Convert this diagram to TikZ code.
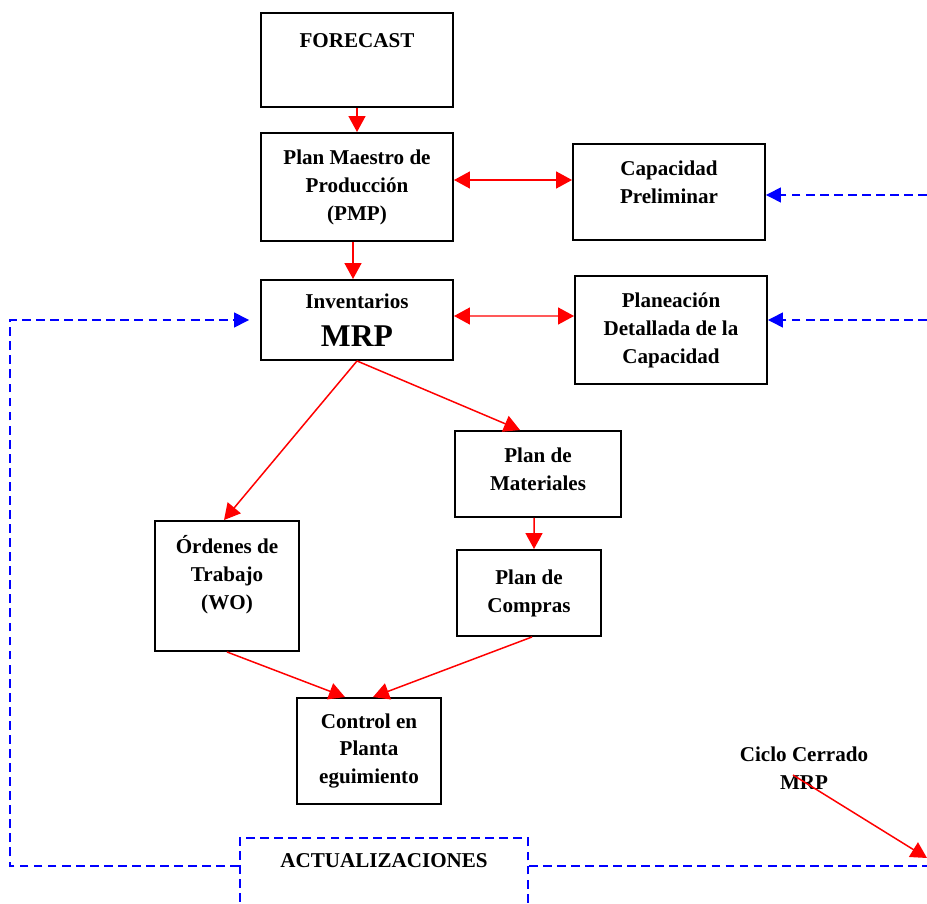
\documentclass[tikz,border=0pt]{standalone}
\usepackage{fontspec}
\setmainfont{Liberation Serif}
\usepackage{tikz}
\usetikzlibrary{arrows.meta,positioning}
\definecolor{c1}{RGB}{255,0,0}
\definecolor{c2}{RGB}{0,0,255}
\tikzset{
    box/.style={rectangle, draw, line width=1.1pt, minimum width=3.84cm, font=\fontsize{12}{15.9}\selectfont\bfseries, align=center},
    small/.style={box, minimum width=2.88cm},
    link/.style={-{Triangle[length=3.2mm,width=3.4mm]}, c1, line width=0.85pt},
    both/.style={{Triangle[length=3.2mm,width=3.4mm]}-{Triangle[length=3.2mm,width=3.4mm]}, c1, line width=0.85pt},
    upd/.style={c2, line width=0.85pt, dash pattern=on 5pt off 3pt},
    updarrow/.style={upd, -{Triangle[length=3mm,width=3mm]}}
}
\begin{document}
\begin{tikzpicture}
    \clip (0,0) rectangle (18.54,18.06);
    \node[box, minimum height=1.84cm, text height=0.58cm, text depth=1.06cm] (fc) at (7.14,16.86) {FORECAST};
    \node[box, minimum height=2.16cm] (pmp) at (7.14,14.32) {Plan Maestro de\\Producción\\(PMP)};
    \node[box, minimum height=1.92cm] (cap) at (13.38,14.22) {Capacidad\\Preliminar\\[-4.5pt]\mbox{}};
    \node[box, minimum height=1.6cm] (mrp) at (7.14,11.66) {Inventarios\\[6pt]{\fontsize{18}{20}\selectfont MRP}};
    \node[box, minimum height=2.16cm] (pdc) at (13.42,11.46) {Planeación\\Detallada de la\\Capacidad};
    \node[box, minimum width=3.32cm, minimum height=1.72cm] (pmat) at (10.76,8.58) {Plan de\\Materiales\\[-10pt]\mbox{}};
    \node[small, minimum height=2.6cm] (wo) at (4.54,6.34) {Órdenes de\\Trabajo\\(WO)\\\mbox{}};
    \node[small, minimum height=1.72cm] (pcom) at (10.58,6.20) {Plan de\\Compras};
    \node[small, minimum height=2.12cm] (ctl) at (7.38,3.04) {Control en\\Planta\\eguimiento};
    \node[box, upd, text=black, minimum width=5.76cm, minimum height=1.68cm, text height=0.46cm, text depth=1.02cm] (act) at (7.68,0.44) {ACTUALIZACIONES};
    \node[font=\fontsize{12}{15.9}\selectfont\bfseries, align=center] (cc) at (16.08,2.70) {Ciclo Cerrado\\MRP};

    \coordinate (r1) at (18.54,14.16);
    \coordinate (r2) at (18.54,11.66);
    \coordinate (r3) at (18.54,0.74);
    \coordinate (l1) at (0.2,0.74);
    \coordinate (l2) at (0.2,11.66);
    \coordinate (ce) at (18.54,0.90);

    % main flow
    \draw[link] (fc) -- (pmp);
    \draw[link] ([xshift=-0.08cm]pmp.south) -- ([xshift=-0.08cm]mrp.north);
    \draw[both] ([yshift=0.14cm]pmp.east) -- (cap.west |- 0,14.46);
    \draw[both] ([yshift=0.08cm]mrp.east) -- (pdc.west |- 0,11.74);
    \draw[link] (mrp.south) -- ([xshift=-0.06cm]wo.north);
    \draw[link] (mrp.south) -- ([xshift=-0.36cm]pmat.north);
    \draw[link] ([xshift=-0.08cm]pmat.south) -- ([xshift=0.1cm]pcom.north);
    \draw[link] (wo.south) -- ([xshift=-0.48cm]ctl.north);
    \draw[link] ([xshift=0.06cm]pcom.south) -- ([xshift=0.08cm]ctl.north);
    \draw[link] ([shift={(-0.22,-0.14)}]cc.center) -- (ce);

    % updates
    \draw[updarrow] (r1) -- (cap.east |- r1);
    \draw[updarrow] (r2) -- (pdc.east |- r2);
    \draw[updarrow] (act.west |- l1) -- (l1) -- (l2) -- ([xshift=-0.22cm]mrp.west);
    \draw[upd] (act.east |- r3) -- (r3);
\end{tikzpicture}
\end{document}
